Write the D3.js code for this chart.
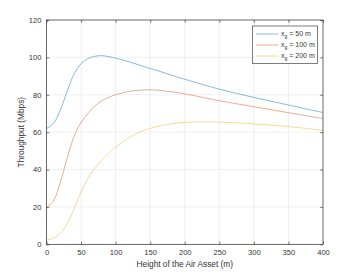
<!DOCTYPE html>
<html>
<head>
<meta charset="utf-8">
<script src="https://cdn.jsdelivr.net/npm/d3@7"></script>
<style>
  html, body { margin: 0; padding: 0; background: #fff; }
  svg { display: block; font-family: "Liberation Sans", Arial, sans-serif; }
</style>
</head>
<body>
<div id="chart"></div>
<script>
/* Throughput vs. air-asset height for three ground distances */

// ── data ──────────────────────────────────────────────────────
const heights = [0, 10, 20, 30, 40, 50, 60, 70, 80, 90, 100, 120, 140, 160, 180, 200, 250, 300, 350, 400];
const xg50  = [62, 64.6, 71.8, 82, 91.2, 96.6, 99.4, 100.6, 100.9, 100.4, 99.6, 97.6, 95.2, 93, 90.6, 88.3, 83, 78.6, 74.5, 70.5];
const xg100 = [19.8, 23.2, 33.2, 46.2, 57.8, 65.2, 70, 74, 76.8, 78.6, 80, 81.8, 82.6, 82.5, 81.6, 80.5, 76.8, 73.6, 70.4, 67.3];
const xg200 = [2.3, 3.2, 6, 11, 19.2, 28, 35.2, 40.6, 45, 48.8, 52, 57.2, 60.8, 63, 64.4, 65.2, 65.4, 64.4, 63, 60.9];
const seriesNames = ['50', '100', '200'];
const xTicks = [0, 50, 100, 150, 200, 250, 300, 350, 400];
const yTicks = [0, 20, 40, 60, 80, 100, 120];

const COLORS = ['#0072BD', '#D95319', '#EDB120'];
const AXIS = '#262626';

// ── layout ────────────────────────────────────────────────────
const W = 357, H = 275;
const L = 46.5, R = 323, T = 20, B = 244.3;

const svg = d3.select('#chart').append('svg')
  .attr('width', W).attr('height', H);

const x = d3.scaleLinear().domain([0, 400]).range([L, R]);
const y = d3.scaleLinear().domain([0, 120]).range([B, T]);

// grid
const grid = svg.append('g').attr('stroke', '#e6e6e6').attr('stroke-width', 0.6);
xTicks.slice(1, -1).forEach(t => {
  grid.append('line').attr('x1', x(t)).attr('x2', x(t)).attr('y1', T).attr('y2', B);
});
yTicks.slice(1, -1).forEach(t => {
  grid.append('line').attr('x1', L).attr('x2', R).attr('y1', y(t)).attr('y2', y(t));
});

// curves
const line = d3.line()
  .x(d => x(d[0])).y(d => y(d[1]))
  .curve(d3.curveCatmullRom.alpha(0.5));

[xg50, xg100, xg200].forEach((vals, i) => {
  svg.append('path')
    .datum(heights.map((h, k) => [h, vals[k]]))
    .attr('fill', 'none')
    .attr('stroke', COLORS[i])
    .attr('stroke-opacity', 0.8)
    .attr('stroke-width', 0.6)
    .attr('d', line);
});

// axes (box with inward ticks on all sides)
const TK = 2.8;
const axisStyle = g => {
  g.select('.domain').remove();
  g.selectAll('.tick line').attr('stroke', AXIS).attr('stroke-width', 0.6);
  g.selectAll('.tick text').attr('fill', '#333').attr('font-size', 7.6)
    .attr('font-family', '"Liberation Sans", Arial, sans-serif');
};

svg.append('g').attr('transform', `translate(0,${B})`)
  .call(d3.axisBottom(x).tickValues(xTicks).tickSize(-TK).tickPadding(5).tickFormat(d3.format('d')))
  .call(axisStyle);
svg.append('g').attr('transform', `translate(0,${T})`)
  .call(d3.axisTop(x).tickValues(xTicks).tickSize(-TK).tickFormat(''))
  .call(axisStyle);
svg.append('g').attr('transform', `translate(${L},0)`)
  .call(d3.axisLeft(y).tickValues(yTicks).tickSize(-TK).tickPadding(5).tickFormat(d3.format('d')))
  .call(axisStyle);
svg.append('g').attr('transform', `translate(${R},0)`)
  .call(d3.axisRight(y).tickValues(yTicks).tickSize(-TK).tickFormat(''))
  .call(axisStyle);

svg.append('rect')
  .attr('x', L).attr('y', T).attr('width', R - L).attr('height', B - T)
  .attr('fill', 'none').attr('stroke', AXIS).attr('stroke-width', 0.7);

// axis labels
svg.append('text')
  .attr('x', (L + R) / 2).attr('y', 267)
  .attr('text-anchor', 'middle').attr('font-size', 8.3).attr('fill', '#333')
  .text('Height of the Air Asset (m)');

svg.append('text')
  .attr('transform', `translate(24,${(T + B) / 2}) rotate(-90)`)
  .attr('text-anchor', 'middle').attr('font-size', 8.3).attr('fill', '#333')
  .text('Throughput (Mbps)');

// legend
const lg = svg.append('g');
lg.append('rect')
  .attr('x', 252.3).attr('y', 26).attr('width', 65.4).attr('height', 37.3)
  .attr('fill', '#fff').attr('stroke', AXIS).attr('stroke-width', 0.6);

seriesNames.forEach((name, i) => {
  const ry = 34 + i * 11;
  lg.append('line')
    .attr('x1', 255.7).attr('x2', 278.3).attr('y1', ry).attr('y2', ry)
    .attr('stroke', COLORS[i]).attr('stroke-opacity', 0.8).attr('stroke-width', 0.6);
  const t = lg.append('text')
    .attr('x', 281).attr('y', ry + 2.3)
    .attr('font-size', 7).attr('fill', '#333');
  t.append('tspan').text('x');
  t.append('tspan').attr('dy', 2).attr('font-size', 5).text('g');
  t.append('tspan').attr('dy', -2).text(` = ${name} m`);
});
</script>
</body>
</html>
